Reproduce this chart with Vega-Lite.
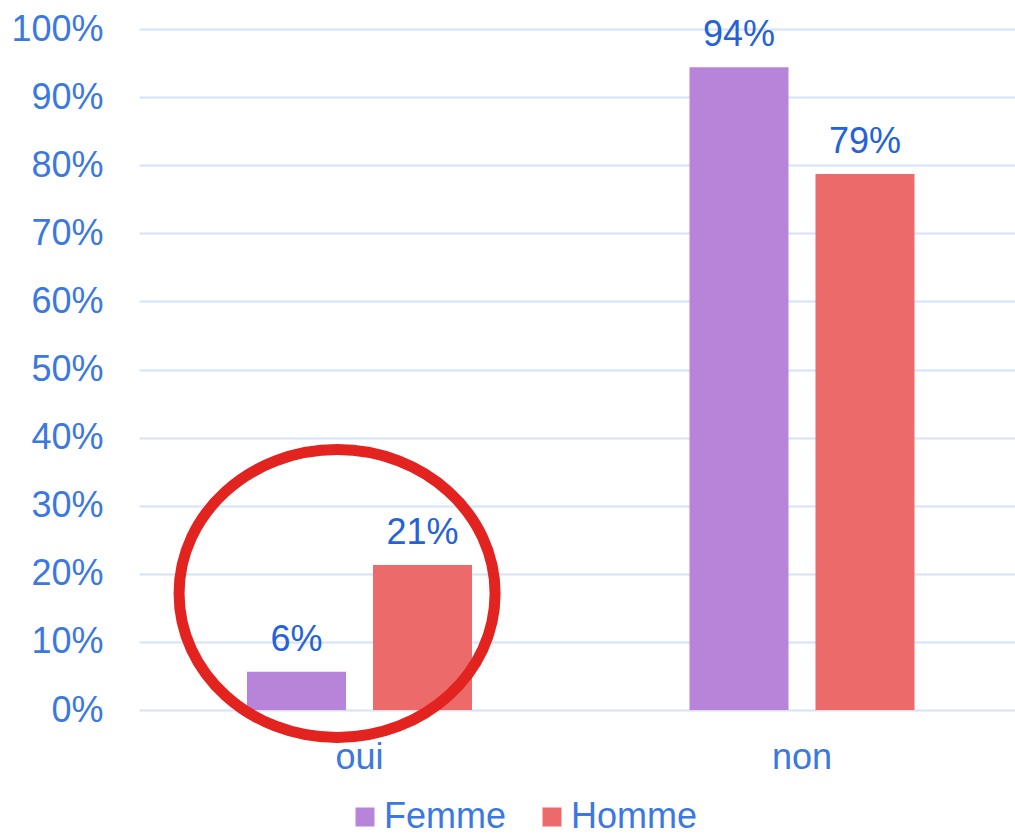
{
  "$schema": "https://vega.github.io/schema/vega-lite/v6.json",
  "autosize": "none",
  "padding": {"left": 139, "top": 29, "right": 0, "bottom": 125},
  "width": 876,
  "height": 681,
  "background": "white",
  "config": {"font": "Liberation Sans", "view": {"stroke": null}},
  "datasets": {
    "bars": [
      {"reponse": "oui", "sexe": "Femme", "part": 0.056},
      {"reponse": "oui", "sexe": "Homme", "part": 0.213},
      {"reponse": "non", "sexe": "Femme", "part": 0.944},
      {"reponse": "non", "sexe": "Homme", "part": 0.787}
    ],
    "note": [
      {"reponse": "oui", "part": 0.171}
    ]
  },
  "layer": [
    {
      "data": {"name": "bars"},
      "mark": {"type": "bar"},
      "encoding": {
        "x": {
          "field": "reponse", "type": "nominal", "sort": ["oui", "non"],
          "scale": {"paddingInner": 0.4915, "paddingOuter": 0.2356, "align": 0.518},
          "axis": {"title": null, "domain": false, "ticks": false, "tickSize": 0, "grid": false, "labelAngle": 0, "labelFontSize": 36, "labelColor": "#3B78E0", "labelPadding": 58, "labelBaseline": "alphabetic"}
        },
        "xOffset": {"field": "sexe", "type": "nominal", "sort": ["Femme", "Homme"], "scale": {"paddingInner": 0.2143, "paddingOuter": 0}},
        "y": {
          "field": "part", "type": "quantitative",
          "scale": {"domain": [0, 1], "nice": false},
          "axis": {"title": null, "domain": false, "ticks": false, "tickSize": 0, "values": [0, 0.1, 0.2, 0.3, 0.4, 0.5, 0.6, 0.7, 0.8, 0.9, 1], "format": ".0%", "labelFontSize": 36, "labelColor": "#3B78E0", "labelPadding": 36, "gridColor": "#D6E2F7", "gridWidth": 2, "labelFlush": false}
        },
        "color": {
          "field": "sexe", "type": "nominal",
          "scale": {"domain": ["Femme", "Homme"], "range": ["#B884D9", "#EC6B6A"]},
          "legend": {"title": null, "orient": "none", "legendX": 208, "legendY": 770, "direction": "horizontal", "symbolType": "square", "symbolSize": 361, "symbolStrokeWidth": 0, "symbolOpacity": 1, "labelFontSize": 36, "labelColor": "#3B78E0", "labelOffset": 1, "columnPadding": 27, "padding": 0, "symbolOffset": 0}
        }
      }
    },
    {
      "data": {"name": "bars"},
      "mark": {"type": "text", "baseline": "alphabetic", "dy": -21, "fontSize": 36, "color": "#2462D8"},
      "encoding": {
        "x": {"field": "reponse", "type": "nominal", "sort": ["oui", "non"]},
        "xOffset": {"field": "sexe", "type": "nominal", "sort": ["Femme", "Homme"]},
        "y": {"field": "part", "type": "quantitative"},
        "text": {"field": "part", "type": "quantitative", "format": ".0%"}
      }
    },
    {
      "data": {"name": "note"},
      "mark": {"type": "point", "shape": "M-1.142,0A1,0.911,0,1,0,0.858,0A1,0.911,0,1,0,-1.142,0Z", "size": 99856, "filled": false, "stroke": "#E32320", "strokeWidth": 11, "opacity": 1},
      "encoding": {
        "x": {"field": "reponse", "type": "nominal", "sort": ["oui", "non"]},
        "y": {"field": "part", "type": "quantitative"}
      }
    }
  ]
}
